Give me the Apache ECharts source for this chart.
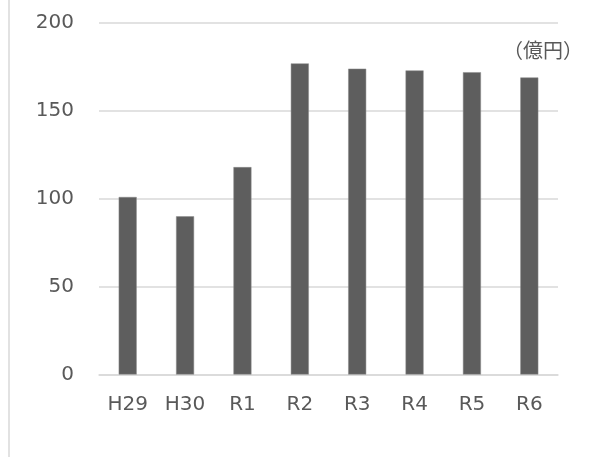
<!DOCTYPE html>
<html>
<head>
<meta charset="utf-8">
<script src="https://cdn.jsdelivr.net/npm/echarts@6/dist/echarts.min.js"></script>
<style>
html,body{margin:0;padding:0;background:#fff;}
#c{width:592px;height:458px;}
</style>
</head>
<body>
<div id="c"></div>
<script>
const categories = ["H29","H30","R1","R2","R3","R4","R5","R6"];
const values = [101, 90, 118, 177, 174, 173, 172, 169];
const yTicks = [0, 50, 100, 150, 200];
const unitLabel = "（億円）";

const font = '"DejaVu Sans", "Noto Sans CJK JP", sans-serif';
const chart = echarts.init(document.getElementById('c'), null, {renderer:'canvas'});
chart.setOption({
  animation:false,
  backgroundColor:'#fff',
  grid:{left:99, right:34, top:23, bottom:83.5},
  xAxis:{
    type:'category',
    data:categories,
    axisLine:{lineStyle:{color:'#d9d9d9', width:1.5}},
    axisTick:{show:false},
    axisLabel:{color:'#595959', fontSize:20, fontFamily:font, margin:20}
  },
  yAxis:{
    type:'value',
    min:yTicks[0], max:yTicks[yTicks.length-1], interval:yTicks[1]-yTicks[0],
    axisLine:{show:false},
    axisTick:{show:false},
    splitLine:{lineStyle:{color:'#d9d9d9', width:1.5}},
    axisLabel:{color:'#595959', fontSize:20, fontFamily:font, margin:25}
  },
  series:[{
    type:'bar',
    data:values,
    barWidth:18,
    itemStyle:{color:'#5e5e5e', borderColor:'#8a8a8a', borderWidth:0.5}
  }],
  graphic:[
    {type:'line', shape:{x1:9, y1:0, x2:9, y2:457}, style:{stroke:'#d9d9d9', lineWidth:1.5}},
    {type:'text', left:503, top:40, style:{text:unitLabel, fill:'#595959', font:'20px "Noto Sans CJK JP", sans-serif'}}
  ]
});
</script>
</body>
</html>
